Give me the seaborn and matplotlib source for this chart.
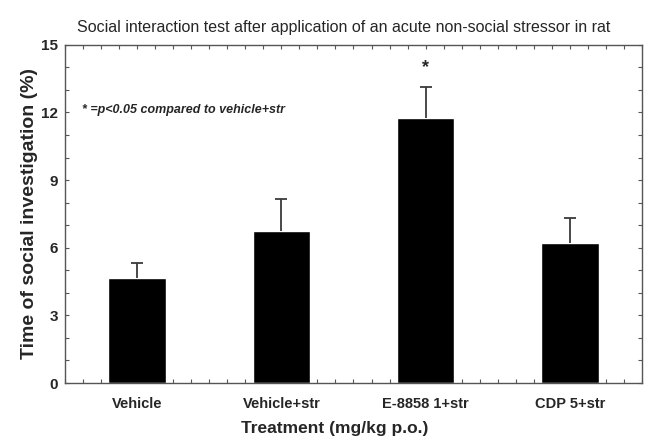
import matplotlib
matplotlib.use('Agg')
import matplotlib.pyplot as plt
from matplotlib.ticker import MultipleLocator
import seaborn as sns
import pandas as pd

# values
treatments = ['Vehicle', 'Vehicle+str', 'E-8858 1+str', 'CDP 5+str']
means = [4.65, 6.74, 11.74, 6.19]
sems = [0.66, 1.42, 1.40, 1.11]
sig_marks = ['', '', '*', '']

title_txt = 'Social interaction test after application of an acute non-social stressor in rat'
note_txt = '* =p<0.05 compared to vehicle+str'

sns.set_style('ticks')
plt.rcParams['font.family'] = ['Liberation Sans', 'DejaVu Sans']

df = pd.DataFrame({'treatment': treatments, 'mean': means})

fig = plt.figure(figsize=(6.46, 4.43), dpi=100)
ax = fig.add_axes([0.1006, 0.1354, 0.8932, 0.7636])

sns.barplot(data=df, x='treatment', y='mean', color='black', width=0.4,
            errorbar=None, saturation=1, ax=ax)

# only the upper half of the error bar, no cap at the bar top
_, caps, _ = ax.errorbar(range(len(treatments)), means, yerr=[[0] * len(sems), sems],
                         fmt='none', ecolor='#3a3a3a', elinewidth=1.3,
                         capsize=4, capthick=1.3)
caps[0].set_visible(False)

for i, m in enumerate(sig_marks):
    if m:
        ax.text(i, means[i] + sems[i] + 0.85, m, ha='center', va='center',
                fontsize=13, fontweight='bold')

ax.text(-0.38, 12.1, note_txt, ha='left', va='center', fontsize=9,
        fontweight='bold', style='italic')

ax.set_xlim(-0.5, 3.5)
ax.set_ylim(0, 15)
ax.yaxis.set_major_locator(MultipleLocator(3))
ax.yaxis.set_minor_locator(MultipleLocator(1))
ax.xaxis.set_minor_locator(MultipleLocator(0.125))

for side in ['top', 'right', 'left', 'bottom']:
    ax.spines[side].set_visible(True)
    ax.spines[side].set_color('#555555')
    ax.spines[side].set_linewidth(1.0)

ax.tick_params(which='both', direction='in', top=True, right=True,
               length=3, width=0.8, color='#555555')
ax.tick_params(axis='x', pad=10, labelsize=10.5)
ax.tick_params(axis='y', pad=5, labelsize=11)
for lab in ax.get_xticklabels() + ax.get_yticklabels():
    lab.set_fontweight('bold')

ax.set_xlabel('Treatment (mg/kg p.o.)', fontsize=12.5, fontweight='bold')
ax.set_ylabel('Time of social investigation (%)', fontsize=14, fontweight='bold')
ax.xaxis.set_label_coords(0.468, -0.133)
ax.xaxis.label.set_va('center')
ax.yaxis.set_label_coords(-0.062, 0.5)
ax.yaxis.label.set_va('center')

fig.text(0.532, 0.939, title_txt, ha='center', va='center', fontsize=11.5)

fig.savefig('out.png', dpi=100, facecolor='white')
